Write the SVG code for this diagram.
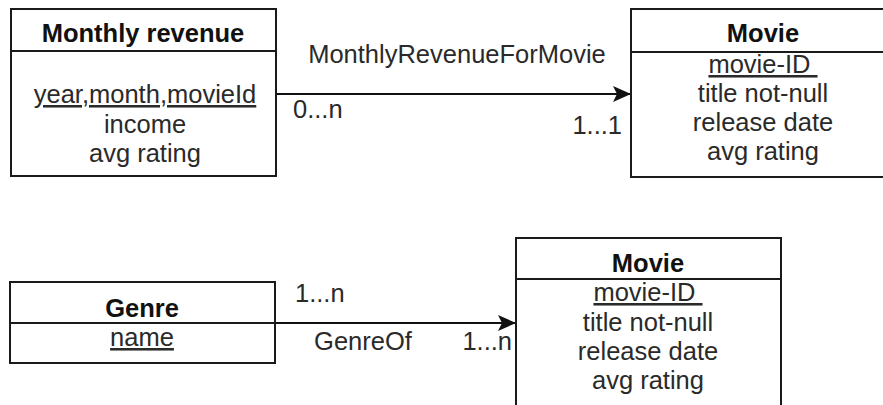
<svg xmlns="http://www.w3.org/2000/svg" width="883" height="405" viewBox="0 0 883 405">
<style>
.box{fill:#fff;stroke:#1a1a1a;stroke-width:2}
.div{stroke:#1a1a1a;stroke-width:2}
text{font-family:"Liberation Sans",Arial,sans-serif;font-size:25.5px;fill:#2a2a2a}
.t{font-weight:bold;fill:#111;text-anchor:middle}
.c{text-anchor:middle}
.u{text-decoration:underline;text-decoration-skip-ink:none}
.edge{stroke:#111;stroke-width:2;fill:none}
</style>
<defs>
<marker id="arr" markerWidth="18" markerHeight="18" refX="17" refY="9" orient="auto" markerUnits="userSpaceOnUse">
<path d="M0,1 L18,9 L0,17 L4,9 Z" fill="#111"/>
</marker>
</defs>
<g id="connectors">
<line class="edge" x1="276" y1="94" x2="630" y2="94" marker-end="url(#arr)"/>
<text class="c" x="457" y="63">MonthlyRevenueForMovie</text>
<text x="293" y="118">0...n</text>
<text x="622" y="134" text-anchor="end">1...1</text>
<line class="edge" x1="275" y1="323" x2="515" y2="323" marker-end="url(#arr)"/>
<text x="295" y="302">1...n</text>
<text class="c" x="363" y="350">GenreOf</text>
<text x="512" y="350" text-anchor="end">1...n</text>
</g>
<g id="monthly-revenue">
<rect class="box" x="11" y="9" width="265" height="167"/>
<line class="div" x1="11" y1="51" x2="276" y2="51"/>
<text class="t" x="143" y="42">Monthly revenue</text>
<text class="c u" x="145" y="103">year,month,movieId</text>
<text class="c" x="145" y="133">income</text>
<text class="c" x="145" y="162">avg rating</text>
</g>
<g id="movie-top">
<rect class="box" x="631" y="9" width="264" height="168"/>
<line class="div" x1="631" y1="52" x2="895" y2="52"/>
<text class="t" x="763" y="42">Movie</text>
<text class="c u" x="763" y="73">movie-ID&#160;</text>
<text class="c" x="763" y="102">title not-null</text>
<text class="c" x="763" y="131">release date</text>
<text class="c" x="763" y="160">avg rating</text>
</g>
<g id="genre">
<rect class="box" x="10" y="282" width="265" height="81"/>
<line class="div" x1="10" y1="323" x2="275" y2="323"/>
<text class="t" x="142" y="317">Genre</text>
<text class="c u" x="142" y="346">name</text>
</g>
<g id="movie-bottom">
<rect class="box" x="516" y="238" width="265" height="180"/>
<line class="div" x1="516" y1="279" x2="781" y2="279"/>
<text class="t" x="648" y="272">Movie</text>
<text class="c u" x="648" y="301">movie-ID&#160;</text>
<text class="c" x="648" y="331">title not-null</text>
<text class="c" x="648" y="360">release date</text>
<text class="c" x="648" y="389">avg rating</text>
</g>
</svg>
